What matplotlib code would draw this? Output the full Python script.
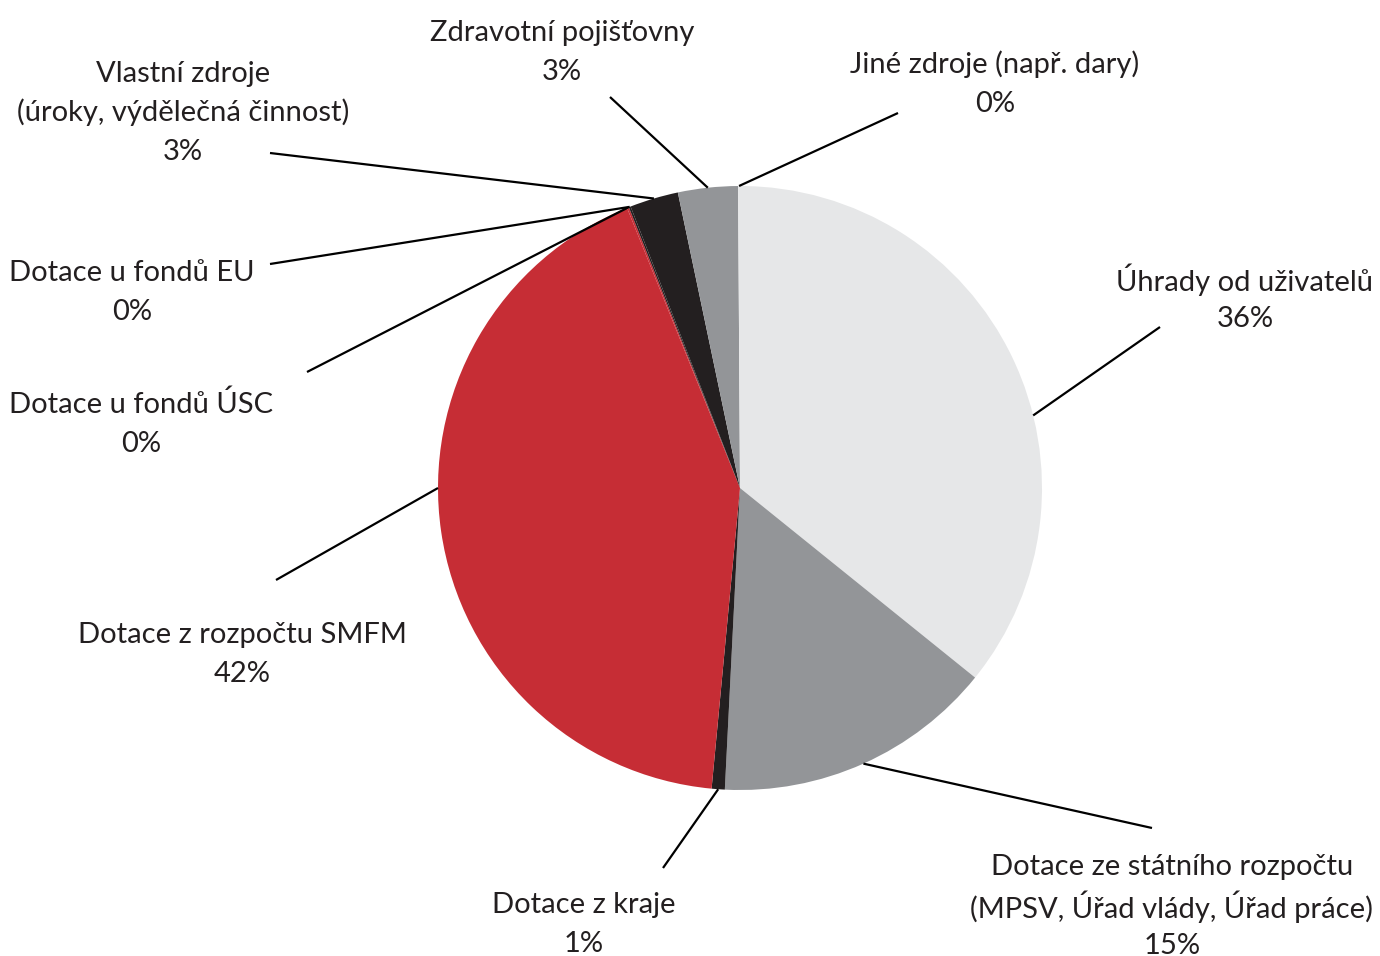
import numpy as np
import matplotlib
matplotlib.use("Agg")
import matplotlib.pyplot as plt

# ---- data ----
categories = [
    "Úhrady od uživatelů",
    "Dotace ze státního rozpočtu\n(MPSV, Úřad vlády, Úřad práce)",
    "Dotace z kraje",
    "Dotace z rozpočtu SMFM",
    "Dotace u fondů ÚSC",
    "Dotace u fondů EU",
    "Vlastní zdroje\n(úroky, výdělečná činnost)",
    "Zdravotní pojišťovny",
    "Jiné zdroje (např. dary)",
]
values = [35.8, 15.0, 0.7, 42.4, 0.1, 0.1, 2.6, 3.2, 0.1]
colors = ["#e6e7e8", "#939598", "#231f20", "#c62d35", "#c62d35",
          "#231f20", "#231f20", "#939598", "#e6e7e8"]

# ---- layout (pixel-like coordinates, image px from top-left) ----
W, H = 1380, 956
center = (740, H - 488)
radius = 302
# label: x center, y center of first line
label_pos = [
    (1245, 277), (1172, 865), (584, 902), (242, 633), (141, 402),
    (132, 270), (183, 71), (562, 30), (995, 62),
]
line_step = 39
# outer leader-line end
leader_out = [
    (1160, 327), (1152, 828), (663, 868), (276, 580), (307, 372),
    (270, 264), (270, 153), (610, 97), (898, 113),
]
# anchor angle overrides (degrees) where leader doesn't hit wedge middle
anchor_override = {0: 13.9, 3: 180.0}

plt.rcParams['font.family'] = ['Lato', 'DejaVu Sans']
fig = plt.figure(figsize=(W / 100, H / 100), dpi=100)
ax = fig.add_axes([0, 0, 1, 1])

wedges, _ = ax.pie(values, colors=colors, startangle=90, counterclock=False,
                   center=center, radius=radius,
                   wedgeprops=dict(linewidth=0))
ax.set_xlim(0, W)
ax.set_ylim(0, H)
ax.set_aspect('equal')
ax.axis('off')

total = sum(values)
fs = 21
for i, (w, cat) in enumerate(zip(wedges, categories)):
    ang = anchor_override.get(i, (w.theta1 + w.theta2) / 2)
    a = np.deg2rad(ang)
    px = center[0] + radius * np.cos(a)
    py = center[1] + radius * np.sin(a)
    ox, oy = leader_out[i]
    ax.plot([px, ox], [py, H - oy], color="black", lw=1.6,
            solid_capstyle='butt')
    pct = round(values[i] / total * 100)
    lines = cat.split("\n") + [f"{pct}%"]
    tx, ty = label_pos[i]
    for k, ln in enumerate(lines):
        ax.text(tx, H - (ty + k * line_step), ln, ha='center',
                va='center_baseline', fontsize=fs, color="#231f20")

fig.savefig("out.png", dpi=100)
